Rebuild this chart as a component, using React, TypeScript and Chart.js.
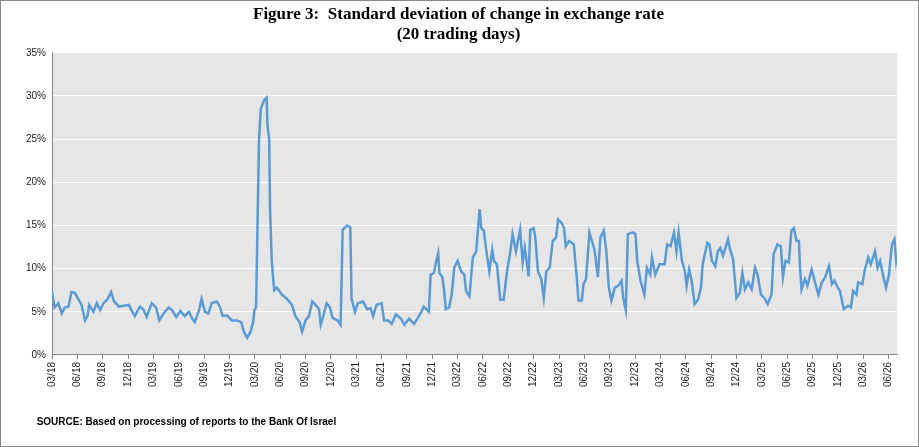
import React, { useRef, useEffect } from 'react';
import Chart from 'chart.js/auto';

// months since 03/2018 and the 20-day std. dev. (%)
const months = [
  0, 0.3, 0.75, 1.15, 1.5, 1.95, 2.3, 2.7, 3.1, 3.5, 3.9, 4.2, 4.4, 4.9, 5.3, 5.7, 6.1, 6.6, 7.0, 7.3,
  7.9, 8.5, 9.1, 9.4, 9.8, 10.4, 10.8, 11.2, 11.8, 12.3, 12.7, 13.2, 13.8, 14.2, 14.7, 15.2, 15.7, 16.2, 16.6, 16.9,
  17.4, 17.7, 18.1, 18.5, 18.9, 19.5, 19.9, 20.2, 20.7, 21.3, 21.9, 22.4, 22.7, 23.1, 23.5, 23.8, 23.95, 24.15, 24.3, 24.5,
  24.7, 25.1, 25.4, 25.5, 25.7, 25.8, 26.0, 26.2, 26.3, 26.6, 27.2, 27.8, 28.4, 28.8, 29.3, 29.6, 30.0, 30.4, 30.8, 31.2,
  31.6, 31.8, 32.1, 32.5, 32.9, 33.2, 33.8, 34.15, 34.4, 34.9, 35.3, 35.45, 35.85, 36.2, 36.8, 37.3, 37.7, 38.0, 38.4, 39.0,
  39.3, 39.8, 40.2, 40.7, 41.3, 41.7, 42.25, 42.85, 43.3, 43.7, 44.0, 44.6, 44.8, 45.2, 45.5, 45.7, 45.85, 46.2, 46.4, 46.6,
  47.0, 47.3, 47.6, 48.0, 48.4, 48.8, 49.0, 49.4, 49.8, 50.2, 50.6, 50.8, 51.1, 51.35, 51.75, 52.1, 52.3, 52.65, 53.05, 53.45,
  53.85, 54.2, 54.5, 54.9, 55.4, 55.7, 55.95, 56.4, 56.6, 57.0, 57.2, 57.5, 57.9, 58.2, 58.5, 58.9, 59.25, 59.65, 59.9, 60.3,
  60.6, 60.8, 61.2, 61.75, 62.1, 62.3, 62.7, 62.9, 63.2, 63.6, 63.9, 64.2, 64.6, 64.9, 65.3, 65.6, 65.9, 66.2, 66.6, 67.0,
  67.4, 67.6, 67.9, 68.15, 68.75, 69.05, 69.25, 69.65, 70.1, 70.4, 70.8, 71.0, 71.4, 71.9, 72.5, 72.8, 73.2, 73.6, 73.9, 74.15,
  74.55, 74.9, 75.1, 75.4, 75.7, 76.05, 76.45, 76.8, 77.0, 77.55, 77.8, 78.1, 78.5, 78.8, 79.1, 79.4, 79.7, 80.0, 80.2, 80.6,
  81.0, 81.4, 81.7, 82.0, 82.4, 82.8, 83.2, 83.5, 83.9, 84.3, 84.7, 85.15, 85.4, 85.85, 86.25, 86.5, 86.8, 87.2, 87.5, 87.8,
  88.1, 88.4, 88.5, 88.7, 89.1, 89.4, 89.9, 90.3, 90.7, 91.1, 91.5, 91.95, 92.3, 92.6, 93.0, 93.25, 93.7, 94.2, 94.55, 94.8,
  95.2, 95.4, 95.9, 96.2, 96.6, 96.9, 97.4, 97.7, 98.0, 98.4, 98.7, 99.05, 99.4, 99.7, 99.9, 100.0,
];
const stdDev = [
  7.3, 5.5, 6.0, 4.8, 5.5, 5.6, 7.3, 7.2, 6.5, 5.8, 4.0, 4.5, 5.8, 5.0, 6.0, 5.2, 6.0, 6.5, 7.3, 6.3,
  5.6, 5.7, 5.8, 5.2, 4.5, 5.6, 5.3, 4.4, 6.0, 5.5, 4.0, 4.8, 5.5, 5.2, 4.4, 5.1, 4.5, 5.0, 4.2, 3.8,
  5.2, 6.5, 5.0, 4.8, 6.0, 6.2, 5.5, 4.5, 4.6, 4.0, 4.0, 3.8, 2.7, 2.0, 2.7, 3.8, 5.2, 5.5, 14, 25,
  28.5, 29.5, 29.8, 26.5, 25, 17, 11, 8.5, 7.5, 7.8, 7.0, 6.5, 5.8, 4.5, 3.8, 2.7, 4.0, 4.5, 6.2, 5.8,
  5.3, 3.5, 4.5, 6.0, 5.5, 4.3, 4.0, 3.5, 14.5, 15.0, 14.8, 6.5, 5.0, 6.0, 6.2, 5.3, 5.4, 4.5, 5.8, 6.0,
  4.0, 4.0, 3.6, 4.7, 4.2, 3.5, 4.2, 3.6, 4.3, 5.0, 5.6, 5.0, 9.3, 9.5, 11.0, 11.8, 9.5, 9.0, 7.5, 5.3,
  5.5, 7.0, 10.1, 10.9, 9.7, 9.3, 7.4, 6.8, 11.3, 12.0, 16.9, 14.7, 14.4, 12.4, 9.7, 12.2, 10.9, 10.5, 6.4, 6.4,
  9.7, 11.7, 14.0, 12.0, 14.5, 10.7, 12.4, 9.1, 14.5, 14.7, 13.6, 9.7, 8.8, 6.6, 9.7, 10.1, 13.2, 13.6, 15.7, 15.3,
  14.7, 12.6, 13.2, 12.8, 9.0, 6.3, 6.3, 8.2, 8.8, 14.2, 13.2, 12.2, 9.0, 13.6, 14.4, 12.0, 7.8, 6.3, 7.8, 8.0,
  8.6, 6.6, 5.2, 14.0, 14.2, 14.0, 10.9, 8.6, 7.0, 10.1, 9.3, 11.3, 9.3, 10.5, 10.5, 12.8, 12.6, 14.2, 12.0, 14.2,
  10.9, 9.7, 8.0, 9.9, 8.6, 5.9, 6.4, 7.8, 10.5, 13.0, 12.8, 10.9, 10.3, 12.0, 12.4, 11.5, 12.4, 13.4, 12.4, 11.1,
  6.6, 7.2, 9.5, 7.6, 8.4, 7.6, 10.1, 9.3, 7.0, 6.6, 5.9, 7.0, 11.7, 12.8, 12.6, 9.0, 10.9, 10.7, 14.4, 14.7,
  13.2, 13.2, 10.5, 7.6, 8.8, 8.0, 9.9, 8.4, 7.0, 8.4, 9.0, 10.3, 8.2, 8.6, 7.8, 7.4, 5.3, 5.7, 5.5, 7.4,
  7.0, 8.4, 8.2, 9.9, 11.3, 10.5, 12.0, 10.1, 10.9, 9.0, 7.8, 9.3, 12.8, 13.4, 10.9, 11.5,
];
const yTicks = [0, 5, 10, 15, 20, 25, 30, 35];

const tickLabel = (m: number) => {
  const mon = ((2 + m) % 12) + 1;
  const yr = 18 + Math.floor((2 + m) / 12);
  return String(mon).padStart(2, '0') + '/' + yr;
};

const plotBg = {
  id: 'plotBg',
  beforeDraw(chart: any) {
    const { ctx, chartArea: a } = chart;
    ctx.save();
    ctx.fillStyle = '#e6e6e6';
    ctx.fillRect(a.left, a.top, a.right - a.left, a.bottom - a.top);
    ctx.restore();
  },
};

const App = () => {
  const canvasRef = useRef<any>(null);
  const chartRef = useRef<any>(null);

  useEffect(() => {
    document.body.style.margin = '0';
    if (chartRef.current) chartRef.current.destroy();
    chartRef.current = new Chart(canvasRef.current.getContext('2d'), {
      type: 'line',
      data: {
        datasets: [{
          data: months.map((m, i) => ({ x: m, y: stdDev[i] })),
          borderColor: '#5b9bd5',
          borderWidth: 2.5,
          pointRadius: 0,
          tension: 0,
        }],
      },
      plugins: [plotBg],
      options: {
        animation: false,
        responsive: false,
        layout: { padding: { left: 19, right: 21, top: 0, bottom: 0 } },
        plugins: {
          legend: { display: false },
          tooltip: { enabled: false },
          title: {
            display: true,
            text: ['Figure 3:  Standard deviation of change in exchange rate', '(20 trading days)'],
            font: { family: '"Liberation Serif", serif', size: 17, weight: 'bold' },
            color: '#000',
            padding: { top: 3, bottom: 8 },
            lineHeight: 1.1,
          },
          subtitle: {
            display: true,
            position: 'bottom',
            align: 'start',
            text: '      SOURCE: Based on processing of reports to the Bank Of Israel',
            font: { family: '"Liberation Sans", sans-serif', size: 10, weight: 'bold' },
            color: '#000',
            padding: { top: 26, bottom: 18 },
          },
        },
        scales: {
          x: {
            type: 'linear',
            min: 0,
            max: 100,
            afterBuildTicks: (s: any) => {
              s.ticks = [];
              for (let m = 0; m <= 99; m += 3) s.ticks.push({ value: m });
            },
            ticks: {
              autoSkip: false,
              maxRotation: 90,
              minRotation: 90,
              callback: (v: any) => tickLabel(Number(v)),
              font: { family: '"Liberation Sans", sans-serif', size: 10 },
              color: '#222',
            },
            grid: { drawOnChartArea: false, tickLength: 4, color: '#888' },
            border: { color: '#888' },
          },
          y: {
            min: 0,
            max: 35,
            afterBuildTicks: (s: any) => { s.ticks = yTicks.map((v) => ({ value: v })); },
            ticks: {
              callback: (v: any) => v + '%',
              font: { family: '"Liberation Sans", sans-serif', size: 10 },
              color: '#222',
              padding: 6,
            },
            grid: { color: '#ffffff', lineWidth: 1, tickLength: 4, drawTicks: false },
            border: { color: '#888', display: true },
          },
        },
      },
    } as any);
    return () => chartRef.current.destroy();
  }, []);

  return (
    <div style={{ width: 917, height: 445, border: '1px solid #888' }}>
      <canvas ref={canvasRef} width={917} height={445}></canvas>
    </div>
  );
};

export default App;
